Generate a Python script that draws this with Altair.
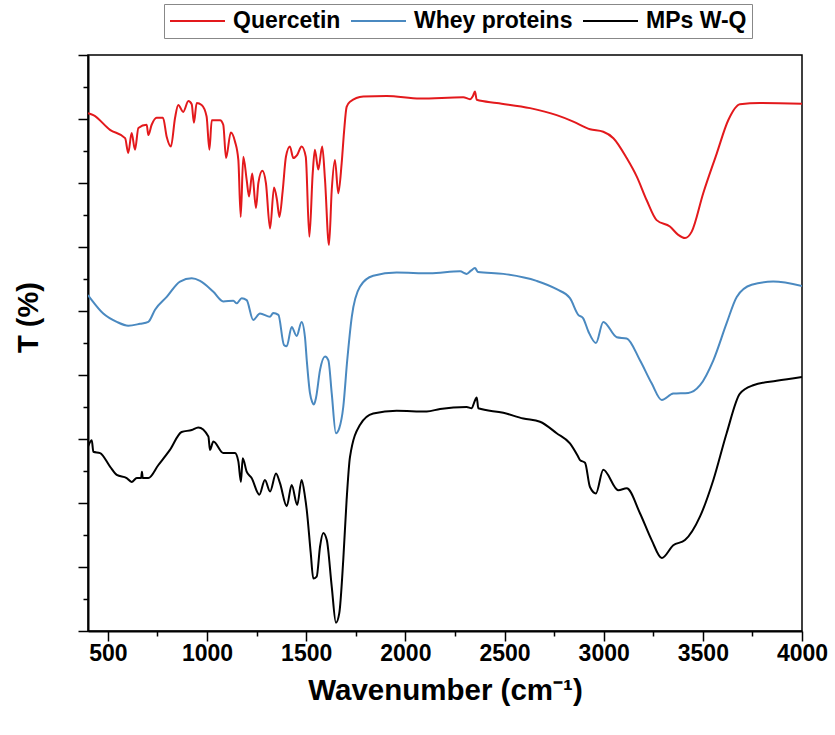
import altair as alt
import pandas as pd

# ---- data (wavenumber cm-1, transmittance, arbitrary offset units) ----
QUER_WN = [400, 427, 511, 587, 603, 620, 637, 654, 696, 704, 721, 746, 778, 797, 818, 839, 855, 880, 906, 923,
           934, 948, 973, 998, 1012, 1024, 1066, 1082, 1096, 1120, 1141, 1158, 1170, 1183, 1200, 1212, 1228, 1247,
           1259, 1279, 1297, 1318, 1338, 1353, 1365, 1382, 1398, 1418, 1435, 1455, 1477, 1498, 1516, 1533, 1544,
           1561, 1581, 1595, 1615, 1629, 1645, 1662, 1679, 1691, 1704, 1721, 1788, 1906, 2074, 2292, 2326, 2341,
           2351, 2360, 2461, 2629, 2763, 2847, 2931, 2998, 3049, 3116, 3167, 3217, 3267, 3334, 3376, 3410, 3444,
           3502, 3570, 3628, 3687, 3788, 4000]
QUER_T = [80.9, 80.6, 78.3, 77.0, 74.7, 77.8, 75.2, 78.6, 79.1, 77.5, 79.1, 80.2, 80.2, 77.2, 75.7, 80.2, 82.2, 81.1,
          82.8, 82.3, 79.4, 82.5, 82.2, 80.4, 75.2, 79.8, 79.8, 79.1, 73.9, 77.9, 76.5, 73.6, 64.7, 74.1, 70.5, 67.9,
          71.5, 66.1, 70.0, 71.9, 70.0, 62.9, 69.3, 67.3, 64.7, 68.9, 74.1, 75.7, 73.9, 74.4, 75.7, 74.1, 61.6, 71.5,
          75.2, 72.1, 75.7, 70.5, 60.3, 68.9, 73.6, 68.4, 73.1, 78.0, 81.9, 82.7, 83.5, 83.6, 83.2, 83.4, 83.1, 83.6,
          84.3, 83.0, 82.5, 81.7, 80.6, 79.6, 78.4, 78.0, 77.0, 73.9, 71.0, 67.3, 64.2, 63.2, 61.9, 61.4, 62.4,
          68.4, 74.6, 79.8, 82.3, 82.5, 82.4]

WHEY_WN = [400, 419, 477, 545, 603, 662, 704, 738, 797, 864, 923, 965, 1032, 1082, 1133, 1150, 1175, 1200, 1233,
           1267, 1318, 1334, 1360, 1388, 1402, 1427, 1452, 1477, 1494, 1503, 1519, 1530, 1539, 1550, 1570, 1595,
           1612, 1629, 1650, 1667, 1687, 1707, 1730, 1771, 1838, 1956, 2124, 2276, 2309, 2331, 2351, 2366, 2494,
           2662, 2763, 2830, 2872, 2896, 2923, 2961, 2998, 3066, 3116, 3183, 3242, 3293, 3351, 3427, 3486, 3553,
           3620, 3671, 3746, 3855, 4000]
WHEY_T = [52.5, 51.7, 49.6, 48.3, 47.7, 48.0, 48.3, 50.2, 52.2, 54.6, 55.1, 54.7, 53.0, 51.5, 51.6, 51.2, 52.0, 51.7,
          48.6, 49.6, 49.1, 49.7, 49.4, 44.7, 44.5, 47.5, 46.1, 48.3, 45.9, 42.3, 37.2, 35.8, 35.4, 36.5, 40.8, 42.9,
          42.3, 37.1, 30.9, 31.7, 35.0, 42.3, 49.1, 53.8, 55.5, 56.0, 55.9, 56.2, 55.8, 56.3, 56.7, 56.1, 55.8,
          54.7, 53.4, 52.0, 49.4, 48.9, 46.8, 45.0, 48.3, 45.9, 45.7, 42.3, 38.7, 36.1, 37.1, 37.2, 38.4, 42.3,
          48.1, 52.2, 54.1, 54.6, 53.9]

MPS_WN = [400, 419, 427, 461, 511, 545, 595, 620, 646, 668, 672, 676, 704, 754, 813, 872, 923, 956, 1007, 1015,
          1032, 1082, 1141, 1158, 1171, 1180, 1200, 1225, 1264, 1292, 1318, 1348, 1368, 1402, 1427, 1455, 1477,
          1494, 1503, 1523, 1536, 1553, 1570, 1586, 1604, 1629, 1650, 1667, 1687, 1704, 1721, 1771, 1838, 1956,
          2108, 2175, 2309, 2335, 2346, 2360, 2368, 2494, 2595, 2679, 2763, 2830, 2872, 2881, 2906, 2931, 2961,
          2998, 3074, 3116, 3183, 3242, 3293, 3351, 3410, 3486, 3553, 3620, 3687, 3754, 3872, 4000]
MPS_T = [28.8, 29.8, 28.0, 27.8, 25.7, 24.4, 23.9, 23.3, 23.9, 23.9, 24.9, 23.9, 23.9, 25.9, 28.3, 31.1, 31.4, 31.8,
         30.4, 28.3, 29.6, 27.8, 27.8, 26.5, 23.3, 27.0, 24.9, 23.9, 21.3, 23.6, 21.8, 24.6, 23.1, 19.5, 22.8, 19.7,
         23.6, 21.0, 18.9, 12.2, 8.2, 8.5, 13.2, 15.3, 14.2, 6.9, 1.3, 2.8, 11.1, 20.5, 27.2, 32.2, 34.0, 34.4,
         34.3, 34.7, 35.0, 34.8, 35.6, 36.5, 34.8, 34.1, 33.2, 32.7, 30.9, 29.3, 27.2, 26.7, 26.3, 22.5, 21.5,
         25.2, 22.0, 22.3, 18.4, 14.2, 11.4, 13.4, 14.2, 17.9, 23.6, 30.9, 37.1, 38.4, 39.1, 39.7]

SERIES = ["Quercetin", "Whey proteins", "MPs W-Q"]
COLORS = ["#e3191c", "#4a89c0", "#000000"]

X_MAJOR = [500, 1000, 1500, 2000, 2500, 3000, 3500, 4000]
X_MINOR = [750, 1250, 1750, 2250, 2750, 3250, 3750]
Y_MAJOR = [0, 10, 20, 30, 40, 50, 60, 70, 80, 90]
Y_MINOR = [5, 15, 25, 35, 45, 55, 65, 75, 85]

frames = []
for name, wn, t in [(SERIES[0], QUER_WN, QUER_T), (SERIES[1], WHEY_WN, WHEY_T), (SERIES[2], MPS_WN, MPS_T)]:
    frames.append(pd.DataFrame({"wn": wn, "t": t, "series": name}))
df = pd.concat(frames, ignore_index=True)

FONT = "Liberation Sans"
xscale = alt.Scale(domain=[400, 4000], nice=False, zero=False)
yscale = alt.Scale(domain=[0, 90], nice=False, zero=False)

lines = alt.Chart(df).mark_line(strokeWidth=2, clip=True, interpolate="monotone").encode(
    x=alt.X("wn:Q", scale=xscale, axis=alt.Axis(
        values=X_MAJOR, tickSize=10, labelPadding=1, grid=False, orient="bottom", format="d",
        title="Wavenumber (cm⁻¹)", titleFontSize=29.5, titleFontWeight="bold", titleFont=FONT,
        titleY=68, titleBaseline="alphabetic", labelFlush=False)),
    y=alt.Y("t:Q", scale=yscale, axis=alt.Axis(
        values=Y_MAJOR, tickSize=10, labels=False, grid=False, orient="left",
        title="T (%)", titleFontSize=29, titleFontWeight="bold", titleFont=FONT,
        titleX=-60, titleY=262, titleAlign="center", titleBaseline="middle", titleAngle=270)),
    color=alt.Color("series:N", scale=alt.Scale(domain=SERIES, range=COLORS), title=None,
                    sort=SERIES),
    detail="series:N",
)

minor = alt.Chart(df).mark_line(opacity=0).encode(
    x=alt.X("wn:Q", scale=xscale, axis=alt.Axis(
        values=X_MINOR, tickSize=5, labels=False, domain=False, grid=False, orient="bottom", title=None)),
    y=alt.Y("t:Q", scale=yscale, axis=alt.Axis(
        values=Y_MINOR, tickSize=5, labels=False, domain=False, grid=False, orient="left", title=None)),
    detail="series:N",
)

chart = alt.layer(lines, minor).resolve_axis(x="independent", y="independent").properties(
    width=714, height=576,
    autosize=alt.AutoSizeParams(type="none"),
    padding={"left": 88, "top": 55, "right": 33, "bottom": 104},
    background="white",
).configure_view(
    stroke="black", strokeWidth=1.5
).configure_axis(
    domainColor="black", domainWidth=2, tickColor="black", tickWidth=1.5,
    labelFont=FONT, labelFontSize=23, labelFontWeight="bold", labelColor="black",
    titleColor="black",
).configure_legend(
    orient="none", legendX=76, legendY=-51, direction="horizontal",
    symbolType="M-1,0H4", symbolSize=484, symbolStrokeWidth=2,
    labelFont=FONT, labelFontSize=23, labelFontWeight="bold", labelColor="black",
    labelOffset=40, labelLimit=400, columnPadding=6, padding=5,
    strokeColor="#888888", fillColor="white",
)

chart.save("out.html", embed_options={"renderer": "svg", "actions": False})
